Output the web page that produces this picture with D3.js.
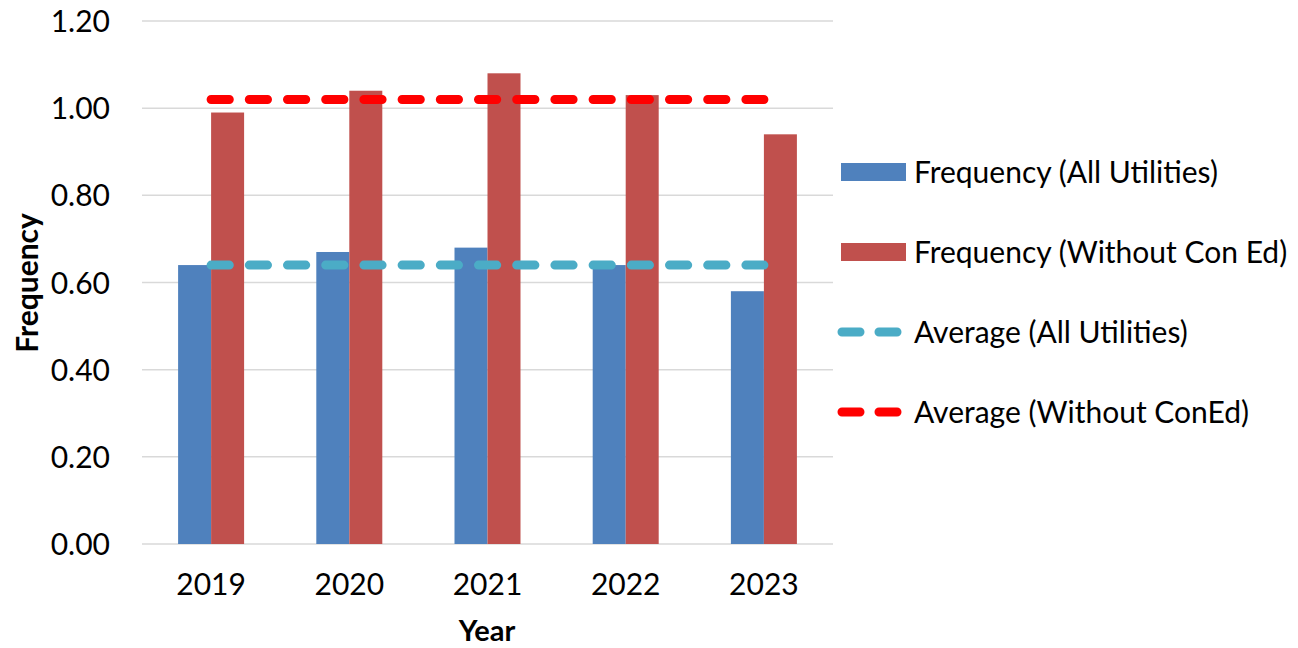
<!DOCTYPE html>
<html>
<head>
<meta charset="utf-8">
<script src="https://cdn.jsdelivr.net/npm/d3@7"></script>
<style>
  body { margin: 0; background: #fff; }
  text { font-family: Lato, "Open Sans", sans-serif; fill: #000; }
</style>
</head>
<body>
<svg id="chart" width="1298" height="648"></svg>
<script>
(function () {
  "use strict";

  // data
  var years = ["2019", "2020", "2021", "2022", "2023"];
  var freqAll = [0.64, 0.67, 0.68, 0.64, 0.58];
  var freqNoConEd = [0.99, 1.04, 1.08, 1.03, 0.94];
  var avgAll = [0.64, 0.64, 0.64, 0.64, 0.64];
  var avgNoConEd = [1.02, 1.02, 1.02, 1.02, 1.02];
  var yTicks = [0, 0.2, 0.4, 0.6, 0.8, 1.0, 1.2];

  var seriesNames = [
    "Frequency (All Utilities)",
    "Frequency (Without Con Ed)",
    "Average (All Utilities)",
    "Average (Without ConEd)"
  ];

  var blue = "#4f81bd", red = "#c0504d", cyan = "#4bacc6", brightRed = "#ff0000";

  var svg = d3.select("#chart");
  var left = 142, right = 833, top = 21, bottom = 544;

  var x = d3.scaleBand().domain(years).range([left, right]);
  var y = d3.scaleLinear().domain([0, 1.2]).range([bottom, top]);
  var barW = 33;

  // gridlines
  svg.append("g").selectAll("line").data(yTicks).enter().append("line")
    .attr("x1", left).attr("x2", right)
    .attr("y1", function (d) { return y(d); })
    .attr("y2", function (d) { return y(d); })
    .attr("stroke", "#d9d9d9").attr("stroke-width", 1.5);

  // y axis labels
  var yAxis = svg.append("g").attr("transform", "translate(" + left + ",0)")
    .call(d3.axisLeft(y).tickValues(yTicks).tickFormat(d3.format(".2f")).tickSize(0).tickPadding(32));
  yAxis.select(".domain").remove();
  yAxis.selectAll("text").style("font-size", "30px").attr("dy", "0.35em").attr("fill", "#000");

  // x axis labels
  var xAxis = svg.append("g").attr("transform", "translate(0," + bottom + ")")
    .call(d3.axisBottom(x).tickSize(0).tickPadding(30));
  xAxis.select(".domain").remove();
  xAxis.selectAll("text").style("font-size", "30px").attr("fill", "#000");

  // bars
  function center(d) { return x(d) + x.bandwidth() / 2; }

  svg.append("g").selectAll("rect").data(freqAll).enter().append("rect")
    .attr("x", function (d, i) { return center(years[i]) - barW; })
    .attr("y", function (d) { return y(d); })
    .attr("width", barW)
    .attr("height", function (d) { return y(0) - y(d); })
    .attr("fill", blue);

  svg.append("g").selectAll("rect").data(freqNoConEd).enter().append("rect")
    .attr("x", function (d, i) { return center(years[i]); })
    .attr("y", function (d) { return y(d); })
    .attr("width", barW)
    .attr("height", function (d) { return y(0) - y(d); })
    .attr("fill", red);

  // average lines
  var line = d3.line()
    .x(function (d, i) { return center(years[i]); })
    .y(function (d) { return y(d); });

  [[avgAll, cyan], [avgNoConEd, brightRed]].forEach(function (s) {
    svg.append("path").datum(s[0])
      .attr("d", line)
      .attr("fill", "none")
      .attr("stroke", s[1])
      .attr("stroke-width", 9)
      .attr("stroke-linecap", "round")
      .attr("stroke-dasharray", "18.2 20");
  });

  // axis titles
  svg.append("text")
    .attr("transform", "translate(38,283) rotate(-90)")
    .attr("text-anchor", "middle")
    .style("font-size", "30px").style("font-weight", "bold")
    .text("Frequency");

  svg.append("text")
    .attr("x", 487).attr("y", 641)
    .attr("text-anchor", "middle")
    .style("font-size", "29px").style("font-weight", "bold")
    .text("Year");

  // legend
  var legend = svg.append("g").selectAll("g").data(seriesNames).enter().append("g")
    .attr("transform", function (d, i) { return "translate(841," + (172 + i * 80) + ")"; });

  legend.each(function (d, i) {
    var g = d3.select(this);
    if (i < 2) {
      g.append("rect").attr("x", 0).attr("y", -9).attr("width", 65).attr("height", 18)
        .attr("fill", i === 0 ? blue : red);
    } else {
      g.append("line").attr("x1", 0).attr("x2", 62).attr("y1", 0).attr("y2", 0)
        .attr("stroke", i === 2 ? cyan : brightRed)
        .attr("stroke-width", 9)
        .attr("stroke-linecap", "round")
        .attr("stroke-dasharray", "18 19")
        .attr("transform", "translate(1,0)");
    }
    g.append("text").attr("x", 73).attr("dy", "0.35em")
      .style("font-size", "30px")
      .text(d);
  });
}());
</script>
</body>
</html>
